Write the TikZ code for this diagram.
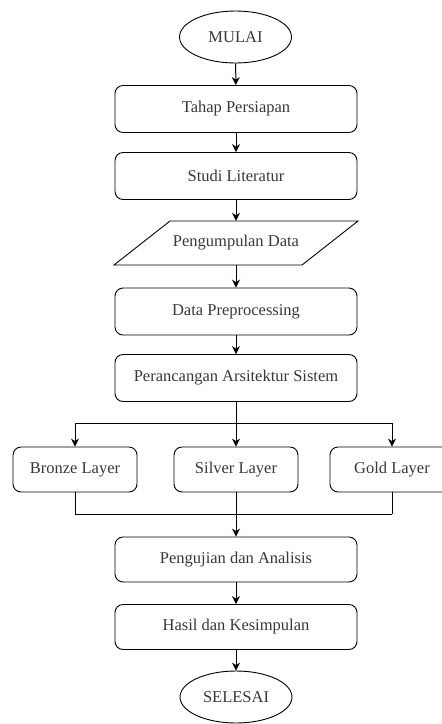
\documentclass[tikz,border=0pt]{standalone}
\usepackage{fontspec}
\setmainfont{Liberation Serif}
\usetikzlibrary{shapes.geometric,arrows.meta}
\begin{document}
\begin{tikzpicture}[x=1pt,y=-1pt,
  every node/.style={font=\fontsize{16.5}{19}\selectfont, text=black!78},
  proc/.style={draw, rounded corners=8pt, line width=0.9pt, minimum width=242pt, minimum height=47pt, inner sep=0pt},
  layer/.style={draw, rounded corners=8pt, line width=0.9pt, minimum width=124pt, minimum height=45pt, inner sep=0pt},
  term/.style={draw, ellipse, line width=0.9pt, minimum width=112pt, minimum height=52pt, inner sep=0pt},
  conn/.style={line width=1pt, -{Stealth[length=8pt,width=8pt]}},
  plain/.style={line width=1pt}
]
\clip (0,0) rectangle (442,724);
\node[term] (start) at (235.5,37) {MULAI};
\node[proc] (tahap) at (236,109) {Tahap Persiapan};
\node[proc] (studi) at (236,176) {Studi Literatur};
\node[minimum width=188pt, minimum height=44pt, inner sep=0pt] (data) at (236,243) {Pengumpulan Data};
\draw[line width=0.9pt] (114,265) -- (170,221) -- (358,221) -- (302,265) -- cycle;
\node[proc] (prep) at (236,311.5) {Data Preprocessing};
\node[proc] (arch) at (236,378) {Perancangan Arsitektur Sistem};
\node[layer] (bronze) at (75,469.5) {Bronze Layer};
\node[layer] (silver) at (236,469.5) {Silver Layer};
\node[layer] (gold) at (392,469.5) {Gold Layer};
\node[proc, minimum height=45pt] (uji) at (236,559.5) {Pengujian dan Analisis};
\node[proc, minimum height=45pt] (hasil) at (236,627) {Hasil dan Kesimpulan};
\node[term] (end) at (236,697) {SELESAI};
\coordinate (split) at (236,423);
\coordinate (merge) at (236,514);
\draw[conn] (start) -- (tahap);
\draw[conn] (tahap) -- (studi);
\draw[conn] (studi) -- (data);
\draw[conn] (data) -- (prep);
\draw[conn] (prep) -- (arch);
\draw[plain] (arch) -- (split);
\draw[plain] (bronze.north |- split) -- (gold.north |- split);
\draw[conn] (bronze.north |- split) -- (bronze);
\draw[conn] (split) -- (silver);
\draw[conn] (gold.north |- split) -- (gold);
\draw[plain] (bronze) -- (bronze.south |- merge);
\draw[plain] (silver) -- (merge);
\draw[plain] (gold) -- (gold.south |- merge);
\draw[plain] (bronze.south |- merge) -- (gold.south |- merge);
\draw[conn] (merge) -- (uji);
\draw[conn] (uji) -- (hasil);
\draw[conn] (hasil) -- (end);
\end{tikzpicture}
\end{document}
